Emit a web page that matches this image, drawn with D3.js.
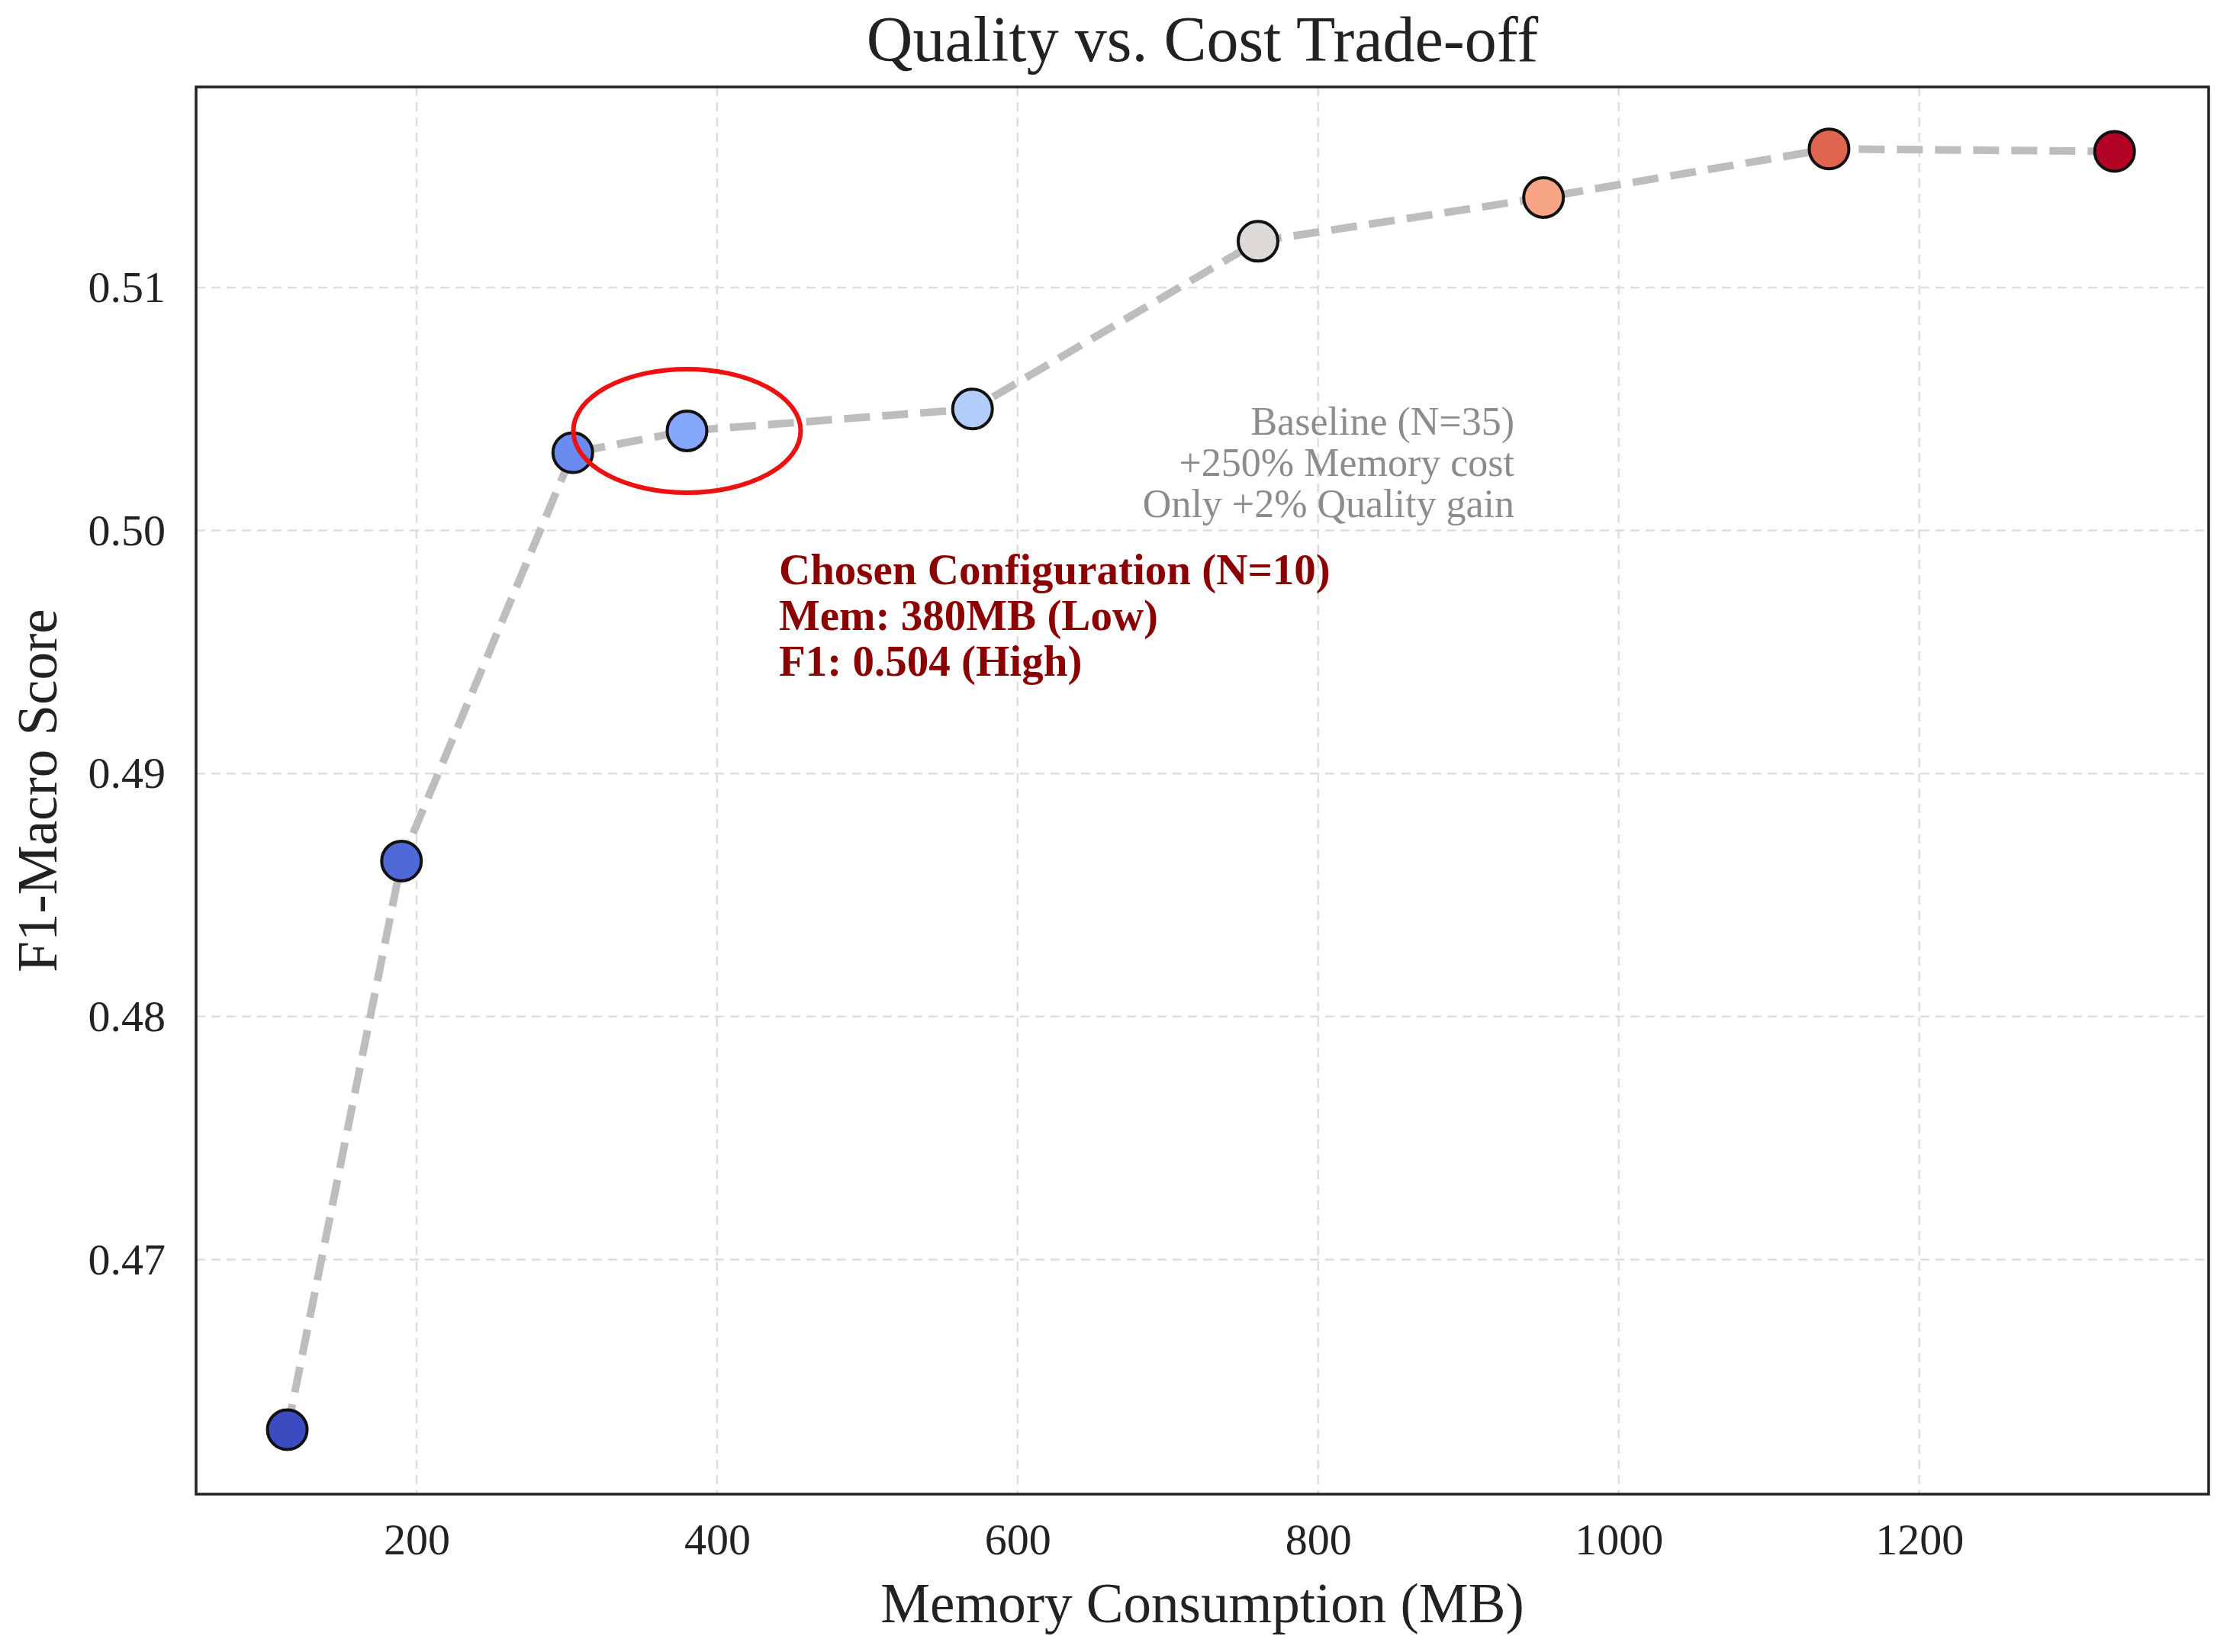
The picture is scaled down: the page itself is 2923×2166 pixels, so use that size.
<!DOCTYPE html>
<html><head><meta charset="utf-8">
<script src="https://cdn.jsdelivr.net/npm/d3@7"></script>
<style>body{margin:0;background:#fff}text{font-family:"Liberation Serif","Times New Roman",serif}</style>
</head><body>
<script>
const memory = [114, 190, 304, 380, 570, 760, 950, 1140, 1330];
const f1 = [0.4630, 0.4864, 0.5032, 0.5041, 0.5050, 0.5119, 0.5137, 0.5157, 0.5156];
const colors = ["#3b4cc0","#4f69d9","#6a8bef","#85a8fc","#b3cdfb","#ddd9d6","#f5a586","#e0654f","#b40426"];
const xTicks = [200, 400, 600, 800, 1000, 1200];
const yTicks = [0.47, 0.48, 0.49, 0.50, 0.51];
const W = 2923, H = 2166, L = 257, R = 2895, T = 114, B = 1959;
const svg = d3.select("body").append("svg").attr("width", W).attr("height", H);
const x = d3.scaleLinear().domain([53.3, 1392.6]).range([L, R]);
const y = d3.scaleLinear().domain([0.46035, 0.51825]).range([B, T]);
const g = svg.append("g");
g.selectAll(".gx").data(xTicks).join("line").attr("x1", d => x(d)).attr("x2", d => x(d)).attr("y1", T).attr("y2", B)
  .attr("stroke", "#dedede").attr("stroke-width", 2.5).attr("stroke-dasharray", "12,8");
g.selectAll(".gy").data(yTicks).join("line").attr("y1", d => y(d)).attr("y2", d => y(d)).attr("x1", L).attr("x2", R)
  .attr("stroke", "#dedede").attr("stroke-width", 2.5).attr("stroke-dasharray", "12,8");
const xa = svg.append("g").attr("transform", `translate(0,${B})`).call(d3.axisBottom(x).tickValues(xTicks).tickSize(0).tickPadding(38).tickFormat(d3.format("d")));
const ya = svg.append("g").attr("transform", `translate(${L},0)`).call(d3.axisLeft(y).tickValues(yTicks).tickSize(0).tickPadding(40).tickFormat(d3.format(".2f")));
[xa, ya].forEach(a => { a.select(".domain").remove(); a.selectAll("text").attr("font-size", 58).attr("fill", "#222").attr("font-family", "Liberation Serif"); });
svg.append("rect").attr("x", L).attr("y", T).attr("width", R - L).attr("height", B - T).attr("fill", "none").attr("stroke", "#222").attr("stroke-width", 3.5);
const pts = memory.map((m, i) => [m, f1[i]]);
svg.append("path").datum(pts).attr("d", d3.line().x(d => x(d[0])).y(d => y(d[1])))
  .attr("fill", "none").attr("stroke", "#bdbdbd").attr("stroke-width", 10).attr("stroke-dasharray", "34,16");
svg.selectAll(".pt").data(pts).join("circle").attr("cx", d => x(d[0])).attr("cy", d => y(d[1])).attr("r", 26)
  .attr("fill", (d, i) => colors[i]).attr("stroke", "#111").attr("stroke-width", 4);
svg.append("ellipse").attr("cx", x(memory[3])).attr("cy", y(f1[3])).attr("rx", 149).attr("ry", 81)
  .attr("fill", "none").attr("stroke", "#ee1111").attr("stroke-width", 6);
const base = ["Baseline (N=35)", "+250% Memory cost", "Only +2% Quality gain"];
svg.selectAll(".bt").data(base).join("text").attr("x", 1985).attr("y", (d, i) => 570 + i * 54).attr("text-anchor", "end")
  .attr("font-size", 52).attr("fill", "#8c8c8c").text(d => d);
const chosen = ["Chosen Configuration (N=10)", "Mem: 380MB (Low)", "F1: 0.504 (High)"];
svg.selectAll(".ct").data(chosen).join("text").attr("x", 1021).attr("y", (d, i) => 766 + i * 60)
  .attr("font-size", 57).attr("font-weight", "bold").attr("fill", "#8b0000").text(d => d);
svg.append("text").attr("x", (L + R) / 2).attr("y", 80).attr("text-anchor", "middle").attr("font-size", 84).attr("fill", "#222").text("Quality vs. Cost Trade-off");
svg.append("text").attr("x", (L + R) / 2).attr("y", 2127).attr("text-anchor", "middle").attr("font-size", 73).attr("fill", "#222").text("Memory Consumption (MB)");
svg.append("text").attr("transform", `translate(74,${(T + B) / 2}) rotate(-90)`).attr("text-anchor", "middle").attr("font-size", 73).attr("fill", "#222").text("F1-Macro Score");
</script>
</body></html>
